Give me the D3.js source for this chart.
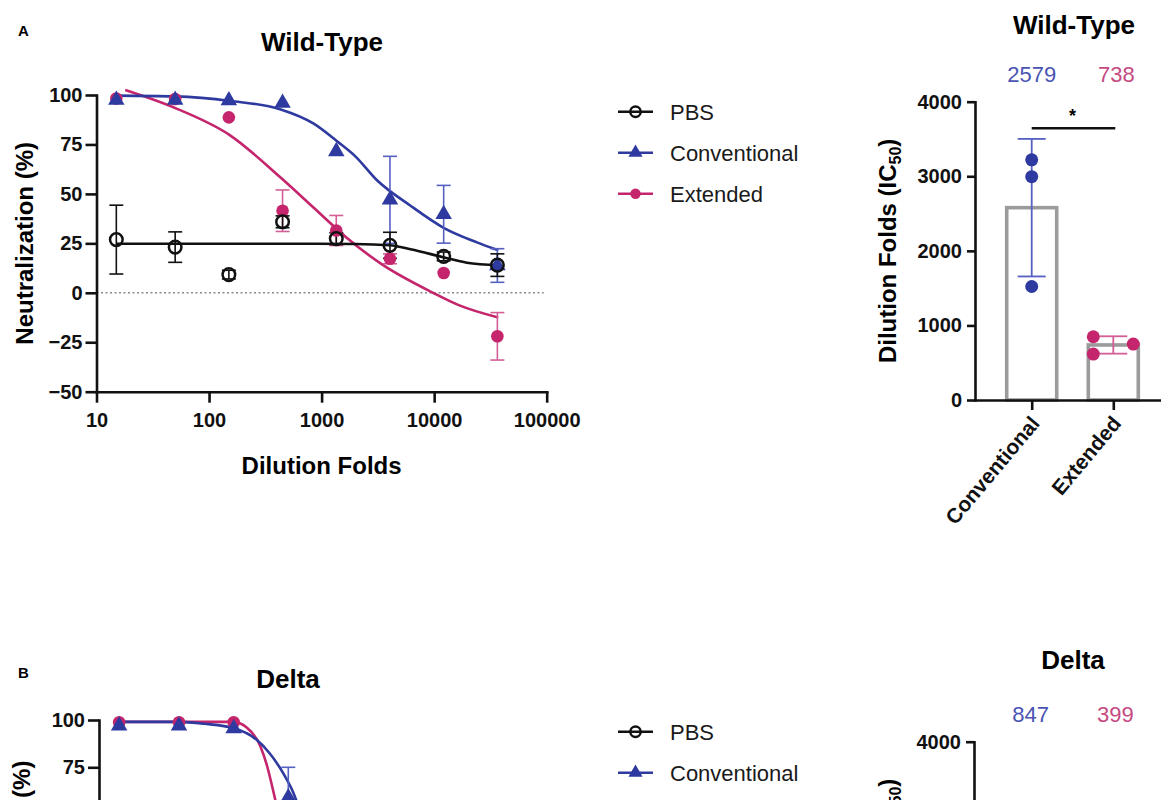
<!DOCTYPE html>
<html>
<head>
<meta charset="utf-8">
<script src="https://cdnjs.cloudflare.com/ajax/libs/d3/7.8.5/d3.min.js"></script>
<style>
  body { margin: 0; background: #fff; }
  svg { display: block; background: #fff; }
</style>
</head>
<body>
<script>
// ---- data ----
// dilution series (folds)
var dilutions = [15, 50, 150, 450, 1350, 4050, 12150, 36450];
var xTickVals = [10, 100, 1000, 10000, 100000];
var yTickVals = [-50, -25, 0, 25, 50, 75, 100];
var icTickVals = [0, 1000, 2000, 3000, 4000];
var groups = ["Conventional", "Extended"];

// Wild-Type neutralization (%), mean and error
var wtPbs = [26.9, 23.1, 9.2, 35.9, 27.4, 24.0, 18.4, 14.0];
var wtPbsErr = [17.4, 7.7, 2.2, 3.0, 3.0, 6.6, 2.2, 5.7];
var wtConv = [97.5, 97.5, 97.2, 96.0, 71.5, 47.0, 39.7, 13.8];
var wtConvErr = [0, 0, 0, 0, 0, 22.0, 14.6, 8.5];
var wtExt = [98.2, 98.0, 88.7, 41.5, 31.5, 17.2, 10.0, -22.0];
var wtExtErr = [0, 0, 0, 10.5, 7.6, 2.5, 0, 12.0];

// fitted curves
var wtPbsFitX = [15, 300, 2000, 4050, 6170, 12020, 19500, 37150];
var wtPbsFitY = [24.8, 24.8, 24.7, 24.0, 22.0, 18.0, 15.2, 14.0];
var wtConvFitX = [15, 50, 155, 427, 851, 1380, 1995, 3090, 6170, 12020, 23990, 37150];
var wtConvFitY = [99.7, 99.3, 97.0, 92.8, 85.5, 76.5, 69.0, 57.0, 44.0, 33.0, 25.5, 21.5];
var wtExtFitX = [18, 52, 155, 427, 851, 1660, 3310, 9800, 17000, 37150];
var wtExtFitY = [102.5, 93.0, 79.5, 58.5, 43.0, 28.0, 15.0, 0.0, -6.5, -12.5];

// Delta: only the top of the panel is inside the frame
var deltaConv = [97.0, 97.0, 95.5, 59.0];
var deltaConvErr = [0, 0, 0, 16.0];
var deltaExt = [98.8, 98.8, 98.8];
var deltaExtErr = [0, 0, 0];
var deltaConvFitX = [15, 50, 83, 151, 240, 309, 407, 501, 540];
var deltaConvFitY = [99.0, 99.0, 98.0, 95.6, 89.4, 82.4, 71.8, 61.2, 56.0];
var deltaExtFitX = [15, 50, 148, 195, 257, 295, 331, 355];
var deltaExtFitY = [99.0, 99.0, 99.0, 96.0, 86.0, 75.3, 63.0, 55.0];

// IC50 (dilution folds)
var wtIc50 = [2579, 738];
var wtConvIc = [3220, 2995, 1522];
var wtExtIc = [848, 616, 750];
var deltaIc50 = [847, 399];

// ---- styles ----
var FONT = '"Liberation Sans", Arial, Helvetica, sans-serif';
var BLUE = "#2e3a9f", BLUE_ERR = "#5660c2", BLUE_TXT = "#4a54b4";
var PINK = "#c4256c", PINK_ERR = "#d35f96", PINK_TXT = "#c54a82";
var INK = "#111";
var H = 800;

var svg = d3.select("body").append("svg")
  .attr("width", 1161)
  .attr("height", H)
  .attr("font-family", FONT);

function styleAxis(sel, size) {
  sel.select(".domain").attr("stroke", INK).attr("stroke-width", 2.6).attr("stroke-linecap", "square");
  sel.selectAll(".tick line").attr("stroke", INK).attr("stroke-width", 2.6);
  sel.selectAll(".tick text")
    .attr("fill", INK)
    .attr("font-size", size)
    .attr("font-weight", "bold")
    .attr("font-family", FONT);
}

function drawMarker(g, shape, color, cx, cy, size) {
  if (shape === "open") {
    g.append("circle").attr("cx", cx).attr("cy", cy).attr("r", size)
      .attr("fill", "none").attr("stroke", INK).attr("stroke-width", 2.5);
  } else if (shape === "tri") {
    g.append("path")
      .attr("d", d3.symbol(d3.symbolTriangle, size * size * 2.4)())
      .attr("transform", `translate(${cx}, ${cy})`)
      .attr("fill", color);
  } else {
    g.append("circle").attr("cx", cx).attr("cy", cy).attr("r", size).attr("fill", color);
  }
}

// neutralization curve panel
function drawNeut(opt) {
  var g = svg.append("g");
  var x = d3.scaleLog().domain([10, 100000]).range([opt.left, opt.right]);
  var y = d3.scaleLinear().domain([-50, 100]).range([opt.bottom, opt.top]);

  // dotted zero line
  g.append("line")
    .attr("x1", opt.left).attr("x2", opt.right - 3)
    .attr("y1", y(0)).attr("y2", y(0))
    .attr("stroke", "#8a8a8a").attr("stroke-width", 1.6)
    .attr("stroke-dasharray", "2,2.5");

  // axes
  g.append("g")
    .attr("transform", `translate(0, ${opt.bottom})`)
    .call(d3.axisBottom(x).tickValues(xTickVals).tickFormat(d3.format("d"))
      .tickSize(11).tickSizeOuter(0).tickPadding(10))
    .call(styleAxis, 20);

  g.append("g")
    .attr("transform", `translate(${opt.left}, 0)`)
    .call(d3.axisLeft(y).tickValues(yTickVals).tickSize(11).tickSizeOuter(0).tickPadding(3))
    .call(styleAxis, 20);

  // fitted curves
  var line = d3.line()
    .x(d => x(d[0]))
    .y(d => y(d[1]))
    .curve(d3.curveMonotoneX);

  opt.series.forEach(function(s) {
    if (!s.fitX.length) return;
    g.append("path")
      .datum(d3.zip(s.fitX, s.fitY))
      .attr("d", line)
      .attr("fill", "none")
      .attr("stroke", s.color)
      .attr("stroke-width", 2.6);
  });

  // error bars
  opt.series.forEach(function(s) {
    s.vals.forEach(function(v, i) {
      var e = s.err[i];
      if (!e) return;
      var cx = x(dilutions[i]);
      var eg = g.append("g").attr("stroke", s.errColor).attr("stroke-width", 1.6);
      eg.append("line").attr("x1", cx).attr("x2", cx).attr("y1", y(v - e)).attr("y2", y(v + e));
      eg.append("line").attr("x1", cx - 7).attr("x2", cx + 7).attr("y1", y(v + e)).attr("y2", y(v + e));
      eg.append("line").attr("x1", cx - 7).attr("x2", cx + 7).attr("y1", y(v - e)).attr("y2", y(v - e));
    });
  });

  // markers
  opt.series.forEach(function(s) {
    s.vals.forEach(function(v, i) {
      drawMarker(g, s.shape, s.color, x(dilutions[i]), y(v), s.shape === "tri" ? 7 : 6.3);
    });
  });

  // titles
  g.append("text")
    .attr("x", opt.titleX).attr("y", opt.titleY)
    .attr("text-anchor", "middle")
    .attr("font-size", 26).attr("font-weight", "bold")
    .text(opt.title);

  g.append("text")
    .attr("x", (opt.left + opt.right) / 2).attr("y", opt.bottom + 82)
    .attr("text-anchor", "middle")
    .attr("font-size", 24).attr("font-weight", "bold")
    .text("Dilution Folds");

  g.append("text")
    .attr("transform", `translate(${opt.ylabelX}, ${(opt.top + opt.bottom) / 2}) rotate(-90)`)
    .attr("text-anchor", "middle")
    .attr("dy", "0.35em")
    .attr("font-size", 24).attr("font-weight", "bold")
    .text("Neutralization (%)");

  g.append("text")
    .attr("x", 18).attr("y", opt.letterY)
    .attr("font-size", 15).attr("font-weight", "bold")
    .text(opt.letter);
}

// legend next to each curve panel
function drawLegend(left, top) {
  var items = [
    {name: "PBS", shape: "open", color: INK},
    {name: "Conventional", shape: "tri", color: BLUE},
    {name: "Extended", shape: "dot", color: PINK}
  ];
  var g = svg.append("g");
  items.forEach(function(d, i) {
    var cy = top + i * 41;
    g.append("line")
      .attr("x1", left).attr("x2", left + 35)
      .attr("y1", cy).attr("y2", cy)
      .attr("stroke", d.color).attr("stroke-width", 2.4);
    drawMarker(g, d.shape, d.color, left + 17.5, cy, d.shape === "tri" ? 6 : 5.2);
    g.append("text")
      .attr("x", left + 52).attr("y", cy)
      .attr("dy", "0.36em")
      .attr("font-size", 22)
      .attr("fill", "#1a1a1a")
      .text(d.name);
  });
}

// spread overlapping dots sideways, then centre the group
function dodge(vals, y, r, step) {
  var placed = [];
  vals.forEach(function(v) {
    var cy = y(v), off = 0, k = 1;
    while (placed.some(p => Math.abs(p.off - off) < 2 * r && Math.abs(p.cy - cy) < 2 * r)) {
      off = (k % 2 ? 1 : -1) * Math.ceil(k / 2) * step;
      k++;
    }
    placed.push({v: v, cy: cy, off: off});
  });
  if (!placed.length) return placed;
  var mid = (d3.min(placed, p => p.off) + d3.max(placed, p => p.off)) / 2;
  placed.forEach(p => { p.off -= mid; });
  return placed;
}

// IC50 bar panel
function drawIc(opt) {
  var g = svg.append("g");
  var x = d3.scalePoint().domain(groups).range([opt.left, opt.left + 195]).padding(0.695);
  var y = d3.scaleLinear().domain([0, 4000]).range([opt.bottom, opt.top]);
  var colors = [BLUE, PINK], errColors = [BLUE_ERR, PINK_ERR], txtColors = [BLUE_TXT, PINK_TXT];

  // bars
  g.selectAll("rect.bar")
    .data(opt.ic50)
    .enter()
    .append("rect")
    .attr("class", "bar")
    .attr("x", (d, i) => x(groups[i]) - 25)
    .attr("width", 50)
    .attr("y", d => y(d))
    .attr("height", d => opt.bottom - y(d))
    .attr("fill", "#fff")
    .attr("stroke", "#9b9b9b")
    .attr("stroke-width", 3.6);

  // axes
  g.append("g")
    .attr("transform", `translate(${opt.left}, 0)`)
    .call(d3.axisLeft(y).tickValues(icTickVals).tickFormat(d3.format("d"))
      .tickSize(8).tickSizeOuter(0).tickPadding(5))
    .call(styleAxis, 20);

  g.append("g")
    .attr("transform", `translate(0, ${opt.bottom})`)
    .call(d3.axisBottom(x).tickSize(10).tickSizeOuter(0).tickFormat(""))
    .call(styleAxis, 20);

  // category labels, rotated
  g.selectAll("text.cat")
    .data(groups)
    .enter()
    .append("text")
    .attr("class", "cat")
    .attr("transform", d => `translate(${x(d) + 9}, ${opt.bottom + 24}) rotate(-50)`)
    .attr("text-anchor", "end")
    .attr("font-size", 21)
    .attr("font-weight", "bold")
    .attr("fill", INK)
    .text(d => d);

  // individual points with SD error bars
  opt.points.forEach(function(pts, i) {
    if (!pts.length) return;
    var cx = x(groups[i]);
    var m = opt.ic50[i], sd = d3.deviation(pts);
    var eg = g.append("g").attr("stroke", errColors[i]).attr("stroke-width", 1.8);
    eg.append("line").attr("x1", cx).attr("x2", cx).attr("y1", y(m - sd)).attr("y2", y(m + sd));
    [m - sd, m + sd].forEach(function(v) {
      eg.append("line").attr("x1", cx - 14).attr("x2", cx + 14).attr("y1", y(v)).attr("y2", y(v));
    });
    dodge(pts, y, 6.5, 40).forEach(function(p) {
      g.append("circle")
        .attr("cx", cx + p.off).attr("cy", p.cy).attr("r", 6.5)
        .attr("fill", colors[i]);
    });
  });

  // significance bracket
  if (opt.star) {
    g.append("line")
      .attr("x1", x(groups[0])).attr("x2", x(groups[1]) + 2)
      .attr("y1", opt.top + 26.6).attr("y2", opt.top + 26.6)
      .attr("stroke", INK).attr("stroke-width", 2.6);
    g.append("text")
      .attr("x", (x(groups[0]) + x(groups[1])) / 2)
      .attr("y", opt.top + 20)
      .attr("text-anchor", "middle")
      .attr("font-size", 18).attr("font-weight", "bold")
      .text("*");
  }

  // IC50 numbers above the plot
  g.selectAll("text.ic")
    .data(opt.ic50)
    .enter()
    .append("text")
    .attr("class", "ic")
    .attr("x", (d, i) => x(groups[i]) + (i ? 3 : 0))
    .attr("y", opt.top - 20)
    .attr("text-anchor", "middle")
    .attr("font-size", 22)
    .attr("fill", (d, i) => txtColors[i])
    .text(d => d);

  g.append("text")
    .attr("x", opt.titleX).attr("y", opt.titleY)
    .attr("text-anchor", "middle")
    .attr("font-size", 26).attr("font-weight", "bold")
    .text(opt.title);

  // y label with subscript
  var yl = g.append("text")
    .attr("transform", `translate(888, ${(opt.top + opt.bottom) / 2}) rotate(-90)`)
    .attr("text-anchor", "middle")
    .attr("dy", "0.35em")
    .attr("font-size", 24).attr("font-weight", "bold");
  yl.append("tspan").text("Dilution Folds (IC");
  yl.append("tspan").attr("font-size", 16).attr("dy", 5).text("50");
  yl.append("tspan").attr("dy", -5).text(")");
}

// ---- panel A: Wild-Type ----
drawNeut({
  left: 96.5, right: 546.7, top: 95, bottom: 391.7,
  title: "Wild-Type", titleX: 322, titleY: 51,
  ylabelX: 25, letter: "A", letterY: 36,
  series: [
    {vals: wtExt, err: wtExtErr, fitX: wtExtFitX, fitY: wtExtFitY, color: PINK, errColor: PINK_ERR, shape: "dot"},
    {vals: wtConv, err: wtConvErr, fitX: wtConvFitX, fitY: wtConvFitY, color: BLUE, errColor: BLUE_ERR, shape: "tri"},
    {vals: wtPbs, err: wtPbsErr, fitX: wtPbsFitX, fitY: wtPbsFitY, color: INK, errColor: INK, shape: "open"}
  ]
});
drawLegend(618, 111.7);
drawIc({
  left: 975, top: 101.7, bottom: 400,
  ic50: wtIc50, points: [wtConvIc, wtExtIc], star: true,
  title: "Wild-Type", titleX: 1074, titleY: 34
});

// ---- panel B: Delta (runs past the bottom of the frame) ----
drawNeut({
  left: 99, right: 557, top: 720, bottom: 1003.8,
  title: "Delta", titleX: 288, titleY: 688,
  ylabelX: 22, letter: "B", letterY: 678,
  series: [
    {vals: deltaExt, err: deltaExtErr, fitX: deltaExtFitX, fitY: deltaExtFitY, color: PINK, errColor: PINK_ERR, shape: "dot"},
    {vals: deltaConv, err: deltaConvErr, fitX: deltaConvFitX, fitY: deltaConvFitY, color: BLUE, errColor: BLUE_ERR, shape: "tri"}
  ]
});
drawLegend(618, 731.7);
drawIc({
  left: 974, top: 741.7, bottom: 1040,
  ic50: deltaIc50, points: [[], []], star: false,
  title: "Delta", titleX: 1073, titleY: 669
});

// drop texts that fall wholly below the frame
svg.selectAll("text").each(function() {
  var b = this.getBoundingClientRect();
  if (b.top >= H) d3.select(this).remove();
});
</script>
</body>
</html>
